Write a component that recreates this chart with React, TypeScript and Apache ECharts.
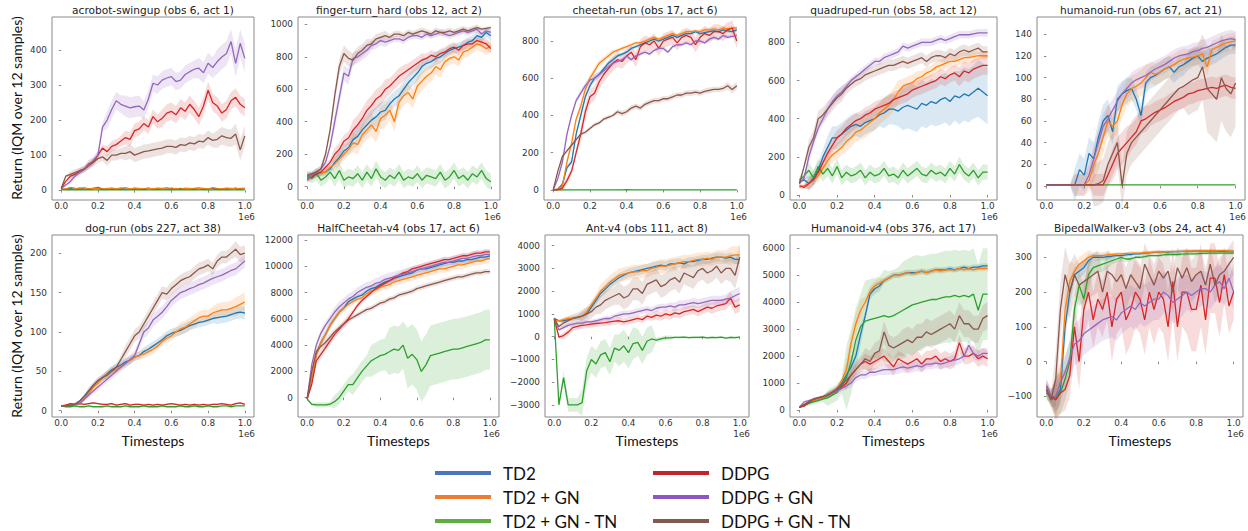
import React, { useEffect, useRef } from "react";
import * as echarts from "echarts";

// ---------- shared data ----------
const X_STEPS = [0, 0.025, 0.05, 0.075, 0.1, 0.125, 0.15, 0.175, 0.2, 0.225, 0.25, 0.275, 0.3, 0.325, 0.35, 0.375, 0.4, 0.425, 0.45, 0.475, 0.5, 0.525, 0.55, 0.575, 0.6, 0.625, 0.65, 0.675, 0.7, 0.725, 0.75, 0.775, 0.8, 0.825, 0.85, 0.875, 0.9, 0.925, 0.95, 0.975, 1.0];
const X_TICKS = [0, 0.2, 0.4, 0.6, 0.8, 1.0];
const METHODS = ["TD2", "TD2 + GN", "TD2 + GN - TN", "DDPG", "DDPG + GN", "DDPG + GN - TN"];
const LINE_COLORS = ["#1f77b4", "#ff7f0e", "#2ca02c", "#d62728", "#9467bd", "#8c564b"];
const LEGEND_COLORS = ["#4a76c0", "#ec7d33", "#5fad41", "#c4232c", "#8c58c6", "#825a50"];
const Z11 = [0, 0, 0, 0, 0, 0, 0, 0, 0, 0, 0];

// series order in each panel: TD2, TD2+GN, TD2+GN-TN, DDPG, DDPG+GN, DDPG+GN-TN
// ---------- acrobot-swingup ----------
const acrobotTicks = [0, 100, 200, 300, 400];
const acrobotValues = [
  [3, 3, 5, 2, 6, 4, 3, 5, 8, 4, 3, 5, 4, 6, 3, 4, 5, 3, 4, 6, 3, 5, 4, 3, 6, 4, 5, 3, 4, 5, 6, 4, 3, 5, 4, 3, 5, 4, 6, 3, 4],
  [3, 4, 8, 6, 5, 7, 4, 6, 5, 3, 5, 6, 4, 5, 7, 4, 6, 5, 3, 5, 4, 6, 5, 7, 4, 5, 3, 6, 5, 4, 6, 5, 4, 7, 5, 4, 6, 5, 4, 5, 6],
  [1, 1, 2, 1, 2, 1, 2, 1, 1, 2, 1, 2, 1, 2, 1, 1, 2, 1, 2, 1, 1, 2, 1, 1, 2, 1, 2, 1, 1, 2, 1, 2, 1, 1, 2, 1, 2, 1, 1, 2, 1],
  [5, 25, 40, 45, 55, 60, 70, 80, 100, 120, 110, 125, 130, 140, 150, 145, 170, 175, 190, 180, 210, 195, 205, 220, 225, 215, 235, 225, 245, 230, 210, 240, 285, 250, 240, 220, 230, 255, 265, 245, 235],
  [5, 15, 25, 40, 50, 60, 70, 85, 100, 180, 200, 230, 255, 245, 240, 235, 238, 240, 229, 260, 305, 300, 314, 320, 324, 310, 314, 330, 338, 345, 348, 335, 362, 350, 367, 380, 390, 424, 362, 419, 376],
  [5, 40, 45, 50, 55, 60, 75, 80, 90, 95, 85, 100, 100, 105, 105, 110, 100, 105, 110, 112, 115, 118, 120, 125, 125, 122, 130, 128, 135, 132, 140, 138, 150, 142, 145, 155, 150, 148, 160, 115, 155],
];
const acrobotSpread = [
  Z11, Z11, Z11,
  [2, 8, 10, 15, 20, 20, 25, 25, 25, 25, 25],
  [2, 8, 12, 25, 30, 25, 25, 25, 30, 35, 40],
  [2, 10, 12, 15, 20, 20, 20, 20, 20, 25, 30],
];

// ---------- finger-turn_hard ----------
const fingerTicks = [0, 200, 400, 600, 800, 1000];
const fingerValues = [
  [60, 70, 75, 85, 90, 110, 150, 180, 220, 240, 290, 310, 350, 380, 410, 430, 460, 470, 510, 540, 560, 600, 640, 670, 700, 740, 760, 770, 790, 800, 820, 840, 850, 860, 870, 890, 900, 930, 920, 950, 930],
  [70, 60, 80, 85, 90, 120, 140, 170, 200, 230, 270, 260, 320, 350, 380, 340, 420, 440, 470, 400, 520, 560, 580, 540, 620, 650, 680, 700, 740, 720, 770, 790, 800, 780, 830, 840, 860, 880, 870, 850, 870],
  [70, 50, 80, 40, 60, 90, 50, 100, 40, 60, 50, 80, 40, 90, 50, 110, 60, 40, 70, 50, 90, 40, 60, 50, 80, 40, 70, 60, 50, 90, 40, 60, 100, 50, 70, 40, 80, 60, 100, 50, 30],
  [50, 60, 80, 90, 120, 150, 200, 230, 280, 300, 350, 380, 420, 470, 500, 540, 560, 600, 620, 650, 680, 700, 720, 740, 760, 780, 790, 810, 800, 820, 830, 850, 860, 840, 870, 880, 880, 900, 890, 880, 850],
  [40, 70, 90, 110, 150, 250, 400, 550, 700, 680, 790, 800, 820, 840, 870, 880, 900, 890, 900, 910, 910, 900, 920, 930, 930, 920, 940, 930, 940, 950, 940, 930, 940, 950, 960, 950, 960, 970, 940, 960, 950],
  [70, 80, 90, 110, 200, 350, 560, 740, 820, 790, 780, 820, 840, 870, 880, 910, 920, 930, 920, 940, 940, 930, 950, 940, 950, 960, 950, 940, 960, 950, 950, 960, 950, 960, 970, 960, 970, 980, 970, 975, 980],
];
const fingerSpread = [
  [20, 20, 40, 60, 60, 50, 50, 40, 30, 30, 30],
  [20, 20, 40, 60, 70, 60, 60, 50, 40, 40, 40],
  [30, 40, 50, 50, 50, 50, 50, 50, 50, 50, 50],
  [20, 20, 40, 60, 60, 50, 40, 30, 30, 30, 30],
  [20, 20, 50, 40, 30, 20, 20, 20, 20, 20, 20],
  [20, 20, 50, 40, 30, 20, 20, 20, 20, 20, 10],
];

// ---------- cheetah-run ----------
const cheetahTicks = [0, 200, 400, 600, 800];
const cheetahValues = [
  [0, 5, 30, 120, 150, 300, 400, 500, 560, 600, 620, 650, 680, 700, 720, 730, 740, 760, 770, 780, 790, 800, 810, 800, 810, 820, 830, 820, 830, 840, 840, 850, 840, 845, 850, 855, 850, 860, 855, 850, 860],
  [0, 5, 20, 150, 250, 380, 450, 540, 600, 640, 680, 700, 720, 740, 750, 760, 770, 780, 790, 790, 800, 810, 820, 810, 820, 830, 840, 830, 840, 850, 850, 855, 850, 860, 860, 865, 860, 870, 865, 870, 870],
  [0, 0, 0, 0, 0, 0, 0, 0, 0, 0, 0, 0, 0, 0, 0, 0, 2, 0, 0, 0, 0, 0, 0, 0, 0, 0, 0, 0, 0, 0, 0, 0, 0, 0, 0, 0, 0, 0, 0, 0, 0],
  [0, 0, 10, 50, 100, 200, 300, 420, 500, 520, 580, 620, 650, 680, 700, 690, 720, 740, 700, 770, 790, 780, 800, 760, 800, 810, 820, 790, 820, 830, 820, 780, 820, 840, 830, 850, 850, 840, 860, 870, 800],
  [0, 60, 150, 300, 400, 480, 520, 560, 590, 600, 620, 640, 660, 680, 690, 700, 720, 700, 720, 730, 740, 730, 750, 760, 760, 740, 770, 780, 780, 790, 780, 800, 800, 790, 810, 820, 810, 830, 820, 825, 830],
  [0, 100, 180, 210, 240, 270, 300, 310, 330, 350, 360, 380, 390, 400, 420, 410, 420, 440, 450, 440, 460, 470, 480, 480, 490, 490, 500, 510, 510, 520, 520, 525, 520, 530, 535, 540, 540, 545, 560, 540, 560],
];
const cheetahSpread = [
  [0, 15, 20, 15, 10, 10, 10, 10, 10, 10, 10],
  [0, 15, 20, 15, 10, 10, 10, 10, 10, 10, 10],
  Z11,
  [0, 20, 40, 40, 40, 40, 40, 40, 40, 40, 40],
  [0, 15, 20, 15, 10, 10, 10, 10, 10, 10, 10],
  [0, 10, 10, 10, 15, 15, 15, 15, 15, 15, 20],
];

// ---------- quadruped-run ----------
const quadrupedTicks = [0, 200, 400, 600, 800];
const quadrupedValues = [
  [70, 80, 60, 90, 130, 200, 250, 300, 300, 320, 340, 360, 370, 360, 380, 390, 400, 420, 430, 450, 450, 440, 460, 470, 460, 450, 480, 470, 490, 480, 500, 510, 490, 520, 510, 530, 520, 540, 560, 540, 520],
  [40, 50, 60, 80, 100, 140, 180, 210, 230, 250, 280, 300, 330, 340, 360, 380, 400, 430, 450, 470, 500, 540, 570, 580, 590, 610, 620, 640, 650, 670, 680, 690, 700, 700, 710, 720, 720, 725, 730, 730, 730],
  [80, 100, 130, 90, 150, 110, 140, 100, 150, 90, 120, 100, 110, 130, 90, 120, 100, 110, 140, 100, 110, 90, 130, 100, 120, 140, 110, 100, 130, 110, 120, 100, 140, 110, 160, 120, 100, 130, 90, 120, 120],
  [50, 40, 60, 80, 120, 170, 220, 260, 300, 320, 350, 370, 390, 400, 420, 430, 450, 460, 470, 480, 500, 510, 520, 530, 550, 560, 570, 580, 590, 600, 620, 610, 630, 640, 620, 650, 640, 660, 670, 680, 680],
  [60, 90, 200, 280, 350, 400, 450, 490, 520, 540, 570, 600, 620, 640, 660, 680, 700, 700, 720, 730, 740, 750, 780, 770, 780, 790, 800, 800, 800, 810, 820, 810, 820, 830, 840, 840, 840, 845, 850, 850, 850],
  [60, 150, 250, 300, 400, 420, 450, 480, 510, 530, 560, 580, 600, 610, 630, 640, 650, 660, 670, 680, 680, 690, 700, 690, 700, 710, 720, 700, 720, 730, 730, 720, 740, 730, 750, 760, 750, 760, 770, 750, 750],
];
const quadrupedSpread = [
  [10, 40, 60, 60, 60, 80, 120, 120, 130, 140, 150],
  [10, 30, 40, 50, 60, 60, 40, 30, 30, 30, 20],
  [20, 40, 40, 40, 40, 40, 40, 40, 40, 40, 40],
  [10, 30, 40, 40, 40, 40, 40, 40, 40, 50, 50],
  [10, 30, 30, 20, 20, 20, 20, 20, 20, 20, 20],
  [10, 40, 40, 30, 30, 30, 30, 30, 30, 30, 30],
];

// ---------- humanoid-run ----------
const humanoidRunTicks = [0, 20, 40, 60, 80, 100, 120, 140];
const humanoidRunValues = [
  [1, 1, 1, 1, 1, 1, 1, 15, 10, 30, 25, 45, 60, 65, 50, 80, 85, 88, 90, 80, 65, 95, 100, 102, 105, 108, 110, 105, 110, 112, 115, 118, 120, 115, 118, 120, 122, 125, 128, 130, 130],
  [1, 1, 1, 1, 1, 1, 1, 1, 1, 5, 20, 30, 45, 60, 55, 60, 75, 85, 90, 92, 95, 100, 105, 103, 105, 108, 110, 112, 115, 117, 118, 119, 120, 122, 110, 126, 128, 130, 132, 133, 134],
  [1, 1, 1, 1, 1, 1, 1, 1, 1, 1, 1, 1, 1, 1, 1, 1, 1, 1, 1, 1, 1, 1, 1, 1, 1, 1, 1, 1, 1, 1, 1, 1, 1, 1, 1, 1, 1, 1, 1, 1, 1],
  [1, 1, 1, 1, 1, 1, 1, 1, 1, 1, 1, 1, 1, 10, 20, 30, 35, 40, 45, 50, 60, 62, 65, 68, 70, 72, 75, 78, 80, 82, 85, 86, 88, 89, 90, 91, 90, 92, 93, 91, 90],
  [1, 1, 1, 1, 1, 1, 1, 1, 1, 10, 25, 40, 55, 62, 70, 78, 85, 90, 95, 98, 100, 102, 105, 108, 110, 112, 115, 118, 120, 121, 122, 124, 125, 127, 128, 130, 132, 134, 135, 136, 135],
  [1, 1, 1, 1, 1, 1, 1, 1, 1, 1, 1, 2, 5, 20, 30, 40, 0, 30, 40, 45, 50, 55, 60, 65, 70, 75, 80, 85, 90, 92, 95, 98, 100, 110, 90, 85, 80, 100, 90, 85, 95],
];
const humanoidRunSpread = [
  [0, 1, 15, 15, 12, 10, 10, 10, 8, 8, 8],
  [0, 0, 10, 15, 12, 12, 10, 10, 8, 8, 8],
  Z11,
  [0, 0, 0, 10, 15, 12, 10, 10, 10, 10, 10],
  [0, 0, 10, 12, 10, 10, 8, 8, 8, 8, 8],
  [0, 0, 0, 20, 20, 20, 20, 20, 30, 40, 40],
];

// ---------- dog-run ----------
const dogTicks = [0, 50, 100, 150, 200];
const dogValues = [
  [6, 6, 6, 8, 12, 18, 25, 32, 38, 42, 47, 52, 55, 58, 62, 64, 68, 70, 75, 78, 82, 86, 90, 95, 98, 100, 102, 105, 108, 110, 112, 113, 115, 117, 118, 119, 120, 122, 124, 125, 124],
  [6, 7, 8, 8, 10, 15, 22, 30, 35, 42, 46, 50, 52, 56, 60, 64, 68, 70, 72, 75, 78, 82, 88, 92, 95, 100, 104, 106, 110, 114, 118, 120, 120, 124, 126, 128, 128, 130, 132, 135, 138],
  [6, 5, 5, 6, 5, 5, 6, 5, 5, 5, 6, 5, 5, 5, 6, 5, 5, 5, 6, 5, 5, 5, 6, 5, 5, 5, 6, 5, 5, 6, 5, 5, 6, 5, 5, 6, 6, 5, 6, 6, 6],
  [6, 7, 9, 8, 9, 8, 9, 10, 9, 8, 8, 9, 7, 8, 9, 7, 8, 8, 7, 8, 7, 8, 7, 8, 9, 8, 7, 8, 7, 8, 7, 8, 7, 8, 8, 9, 8, 7, 9, 10, 8],
  [6, 6, 7, 8, 9, 14, 20, 25, 30, 35, 40, 45, 50, 55, 60, 65, 70, 85, 100, 105, 115, 120, 125, 132, 140, 145, 150, 152, 155, 157, 160, 162, 165, 168, 170, 172, 175, 178, 180, 185, 190],
  [6, 6, 7, 8, 12, 18, 25, 32, 38, 42, 45, 50, 55, 65, 75, 85, 95, 100, 110, 120, 130, 140, 150, 148, 155, 160, 165, 168, 170, 175, 180, 182, 185, 180, 190, 195, 195, 200, 205, 198, 200],
];
const dogSpread = [
  [0, 2, 4, 5, 5, 6, 6, 6, 6, 8, 8],
  [0, 2, 4, 5, 5, 6, 6, 8, 8, 10, 12],
  Z11,
  [0, 1, 1, 1, 1, 1, 1, 1, 1, 1, 1],
  [0, 2, 4, 5, 6, 8, 8, 8, 8, 8, 8],
  [0, 2, 4, 5, 8, 8, 8, 8, 8, 8, 10],
];

// ---------- HalfCheetah-v4 ----------
const halfCheetahTicks = [0, 2000, 4000, 6000, 8000, 10000, 12000];
const halfCheetahValues = [
  [-100, 1500, 3300, 4200, 4800, 5500, 6000, 6500, 6800, 7300, 7500, 7700, 7800, 8100, 8300, 8400, 8600, 8800, 8900, 9100, 9200, 9300, 9400, 9500, 9700, 9800, 9800, 9900, 10000, 10100, 10200, 10300, 10300, 10400, 10400, 10500, 10500, 10600, 10700, 10700, 10800],
  [-100, 1500, 3200, 4200, 4800, 5500, 6000, 6500, 6800, 7100, 7300, 7500, 7600, 7900, 8100, 8200, 8400, 8500, 8600, 8800, 8900, 9000, 9100, 9200, 9300, 9400, 9500, 9600, 9700, 9800, 9800, 9900, 10000, 10100, 10100, 10200, 10300, 10400, 10400, 10500, 10600],
  [-100, -500, -550, -550, -550, -500, -300, 0, 500, 1000, 1000, 1500, 2000, 2400, 2800, 3000, 3200, 3300, 3500, 3700, 3600, 4000, 3000, 3300, 2900, 2000, 2500, 3200, 3300, 3400, 3500, 3600, 3700, 3700, 3800, 3900, 4000, 4100, 4200, 4400, 4400],
  [-100, 1000, 2800, 3300, 3800, 4300, 4800, 5200, 5600, 6000, 6500, 7000, 7400, 7700, 8000, 8300, 8500, 8700, 8900, 9100, 9300, 9500, 9600, 9800, 9900, 10000, 10100, 10200, 10300, 10400, 10500, 10500, 10600, 10700, 10800, 10800, 10900, 11000, 11000, 11100, 11100],
  [-100, 2500, 4000, 4900, 5500, 6000, 6500, 6900, 7200, 7500, 7700, 8000, 8200, 8400, 8500, 8700, 8800, 9000, 9100, 9200, 9300, 9400, 9500, 9600, 9700, 9800, 9900, 10000, 10100, 10200, 10300, 10300, 10400, 10500, 10600, 10600, 10700, 10800, 10800, 10900, 10900],
  [-100, 2000, 3500, 3900, 4200, 4600, 5000, 5300, 5600, 5900, 6100, 6300, 6500, 6700, 6800, 7000, 7200, 7300, 7500, 7600, 7800, 7900, 8000, 8100, 8300, 8400, 8500, 8600, 8700, 8800, 8900, 9000, 9100, 9200, 9200, 9300, 9400, 9500, 9500, 9600, 9600],
];
const halfCheetahSpread = [
  [0, 300, 200, 200, 200, 200, 200, 200, 200, 200, 200],
  [0, 300, 300, 200, 300, 300, 300, 300, 300, 300, 300],
  [0, 200, 500, 800, 1200, 1800, 2300, 2300, 2300, 2300, 2300],
  [0, 300, 300, 200, 200, 200, 200, 200, 200, 200, 200],
  [0, 300, 400, 400, 400, 400, 400, 400, 400, 400, 400],
  [0, 300, 200, 200, 200, 200, 200, 200, 200, 200, 200],
];

// ---------- Ant-v4 ----------
const antTicks = [-3000, -2000, -1000, 0, 1000, 2000, 3000, 4000];
const antValues = [
  [800, 700, 700, 750, 800, 850, 900, 1000, 1300, 1600, 1900, 2100, 2300, 2450, 2600, 2700, 2800, 2850, 2900, 2950, 3000, 3050, 3100, 3150, 3100, 3200, 3200, 3250, 3200, 3300, 3300, 3350, 3400, 3400, 3450, 3500, 3500, 3450, 3500, 3400, 3400],
  [700, 700, 750, 800, 800, 850, 900, 1100, 1400, 1700, 2000, 2200, 2400, 2550, 2700, 2750, 2800, 2850, 2850, 2900, 2900, 3000, 3050, 3100, 3100, 3150, 3200, 3250, 3300, 3300, 3350, 3400, 3400, 3450, 3400, 3500, 3500, 3500, 3550, 3600, 3600],
  [800, -3000, -1800, -3000, -3000, -3000, -2900, -1500, -1000, -1200, -800, -700, -1100, -500, -600, -400, -700, -300, -250, -600, -200, -100, -150, -100, -50, -50, -30, -30, -20, -40, -30, -30, -20, -50, -30, -40, -20, -60, -30, -40, -20],
  [800, -20, 50, 200, 400, 450, 500, 520, 550, 580, 600, 620, 650, 680, 700, 650, 700, 750, 800, 750, 900, 850, 950, 900, 1000, 950, 1050, 1000, 1100, 1150, 1200, 1100, 1200, 1300, 1250, 1350, 1400, 1450, 1700, 1300, 1400],
  [800, 300, 400, 500, 550, 600, 600, 650, 650, 700, 750, 800, 800, 900, 950, 1000, 1000, 1050, 1100, 1150, 1200, 1150, 1250, 1300, 1300, 1350, 1300, 1400, 1400, 1450, 1500, 1450, 1500, 1550, 1600, 1600, 1600, 1650, 1700, 1800, 1900],
  [800, 450, 600, 700, 800, 850, 900, 1000, 1100, 1300, 1400, 1600, 1700, 1800, 1900, 1700, 1800, 2100, 2100, 1900, 2300, 2400, 2500, 2200, 2300, 2500, 2600, 2400, 2800, 2700, 2600, 2900, 3000, 2800, 2900, 3100, 2800, 3000, 3000, 2700, 3500],
];
const antSpread = [
  [50, 100, 200, 200, 200, 200, 200, 200, 200, 200, 200],
  [50, 100, 200, 300, 300, 300, 300, 300, 300, 300, 400],
  [0, 300, 600, 600, 700, 600, 100, 50, 50, 50, 50],
  [50, 150, 150, 150, 150, 150, 200, 200, 200, 250, 300],
  [50, 100, 100, 100, 150, 150, 150, 200, 200, 200, 300],
  [50, 200, 300, 400, 500, 500, 500, 500, 500, 500, 600],
];

// ---------- Humanoid-v4 ----------
const humanoidTicks = [0, 1000, 2000, 3000, 4000, 5000, 6000];
const humanoidValues = [
  [100, 200, 250, 350, 400, 450, 550, 650, 750, 1000, 1300, 1600, 2000, 2800, 3500, 4300, 4500, 4600, 4800, 4900, 5000, 5000, 5050, 5100, 5100, 5100, 5150, 5100, 5150, 5200, 5200, 5200, 5250, 5200, 5250, 5300, 5250, 5300, 5300, 5350, 5350],
  [100, 200, 300, 350, 400, 450, 550, 650, 800, 1100, 1500, 2500, 3200, 3700, 4000, 4400, 4600, 4700, 4800, 4900, 5000, 5000, 5050, 5100, 5050, 5100, 5150, 5100, 5150, 5200, 5150, 5200, 5200, 5200, 5250, 5200, 5250, 5200, 5250, 5250, 5250],
  [100, 150, 250, 300, 350, 400, 450, 550, 650, 900, 1200, 1800, 2600, 3100, 3300, 3350, 3400, 3450, 3500, 3450, 3500, 3600, 3700, 3800, 3900, 3950, 4000, 4050, 4100, 4100, 4150, 4200, 4200, 4250, 4200, 4250, 4200, 4300, 3700, 4300, 4300],
  [100, 150, 300, 400, 450, 500, 550, 650, 700, 850, 1000, 1300, 1500, 1700, 1800, 1700, 1800, 1900, 2000, 1800, 1600, 1900, 1800, 1700, 1800, 1900, 1700, 1900, 1900, 2000, 1800, 1900, 1800, 1900, 2500, 2000, 2000, 2100, 1900, 2000, 1900],
  [100, 300, 350, 400, 450, 500, 550, 650, 700, 800, 900, 1000, 1200, 1300, 1300, 1400, 1400, 1450, 1500, 1500, 1500, 1550, 1600, 1550, 1600, 1650, 1600, 1700, 1700, 1750, 1700, 1750, 1800, 1850, 1900, 2000, 2400, 2100, 2000, 2100, 2100],
  [100, 200, 300, 400, 450, 500, 550, 650, 800, 950, 1100, 1300, 1500, 1700, 1900, 1800, 2100, 2200, 2900, 2400, 2300, 2400, 2500, 2600, 2500, 2700, 2700, 2900, 2800, 2900, 3000, 3100, 3200, 3000, 3500, 3200, 3200, 3000, 3000, 3400, 3500],
];
const humanoidSpread = [
  [20, 50, 100, 400, 200, 100, 100, 100, 100, 100, 100],
  [20, 50, 100, 400, 200, 100, 100, 100, 100, 100, 100],
  [20, 100, 300, 1200, 1500, 1700, 1800, 1700, 1700, 1700, 1700],
  [20, 50, 100, 200, 300, 300, 300, 300, 300, 300, 300],
  [20, 50, 100, 150, 150, 200, 200, 200, 200, 200, 200],
  [20, 50, 100, 300, 400, 400, 500, 500, 500, 500, 500],
];

// ---------- BipedalWalker-v3 ----------
const bipedalTicks = [-100, 0, 100, 200, 300];
const bipedalValues = [
  [-90, -100, -105, -80, 100, 200, 250, 260, 270, 290, 300, 300, 300, 302, 303, 305, 305, 307, 308, 310, 310, 312, 313, 314, 315, 315, 315, 316, 316, 317, 317, 317, 318, 318, 318, 318, 318, 317, 318, 317, 316],
  [-80, -110, -100, -60, 150, 230, 260, 280, 290, 300, 305, 305, 305, 307, 308, 310, 310, 311, 312, 312, 312, 313, 314, 315, 315, 315, 316, 316, 317, 317, 318, 318, 318, 318, 319, 319, 318, 319, 319, 318, 318],
  [-80, -110, -100, -90, -50, 0, 150, 220, 180, 250, 270, 275, 280, 285, 290, 295, 300, 295, 295, 300, 300, 302, 305, 305, 305, 307, 308, 308, 308, 309, 310, 310, 310, 311, 311, 312, 312, 312, 312, 312, 312],
  [-70, -100, -110, -90, -80, -40, 100, 0, 150, 200, 120, 180, 150, 200, 100, 180, 200, 120, 150, 200, 180, 120, 200, 150, 200, 180, 100, 230, 100, 200, 200, 150, 150, 220, 120, 240, 240, 170, 250, 160, 200],
  [-70, -100, -100, -60, -30, 10, 50, 60, 80, 90, 100, 110, 120, 125, 130, 120, 140, 150, 160, 150, 170, 160, 170, 180, 180, 200, 190, 170, 180, 190, 200, 190, 200, 210, 210, 200, 220, 230, 210, 240, 200],
  [-80, -110, -50, 150, 250, 200, 250, 220, 230, 240, 250, 260, 200, 260, 250, 230, 250, 210, 250, 230, 210, 280, 250, 220, 260, 240, 260, 200, 270, 240, 270, 230, 250, 260, 220, 280, 220, 250, 260, 280, 300],
];
const bipedalSpread = [
  [20, 40, 20, 10, 5, 5, 5, 5, 5, 5, 5],
  [20, 60, 20, 10, 5, 5, 5, 5, 5, 5, 5],
  [20, 60, 40, 20, 10, 5, 5, 5, 5, 5, 5],
  [20, 60, 80, 80, 100, 100, 100, 100, 120, 100, 80],
  [20, 50, 60, 60, 60, 60, 60, 60, 50, 50, 50],
  [20, 80, 60, 60, 60, 60, 60, 60, 60, 50, 50],
];

// ---------- panel table ----------
const PANELS = [
  { title: "acrobot-swingup (obs 6, act 1)", values: acrobotValues, spread: acrobotSpread, ticks: acrobotTicks, min: -28, max: 494 },
  { title: "finger-turn_hard (obs 12, act 2)", values: fingerValues, spread: fingerSpread, ticks: fingerTicks, min: -82, max: 1045 },
  { title: "cheetah-run (obs 17, act 6)", values: cheetahValues, spread: cheetahSpread, ticks: cheetahTicks, min: -54, max: 929 },
  { title: "quadruped-run (obs 58, act 12)", values: quadrupedValues, spread: quadrupedSpread, ticks: quadrupedTicks, min: -26, max: 933 },
  { title: "humanoid-run (obs 67, act 21)", values: humanoidRunValues, spread: humanoidRunSpread, ticks: humanoidRunTicks, min: -13, max: 156 },
  { title: "dog-run (obs 227, act 38)", values: dogValues, spread: dogSpread, ticks: dogTicks, min: -8, max: 223 },
  { title: "HalfCheetah-v4 (obs 17, act 6)", values: halfCheetahValues, spread: halfCheetahSpread, ticks: halfCheetahTicks, min: -1469, max: 12380 },
  { title: "Ant-v4 (obs 111, act 8)", values: antValues, spread: antSpread, ticks: antTicks, min: -3530, max: 4470 },
  { title: "Humanoid-v4 (obs 376, act 17)", values: humanoidValues, spread: humanoidSpread, ticks: humanoidTicks, min: -260, max: 6494 },
  { title: "BipedalWalker-v3 (obs 24, act 4)", values: bipedalValues, spread: bipedalSpread, ticks: bipedalTicks, min: -159, max: 364 },
];

// layout: [left, top, width, height]
const LAYOUT = [
  [52, 17, 202, 183], [298, 17, 202, 183], [544, 17, 202, 183], [790, 17, 207, 183], [1037, 17, 208, 183],
  [52, 235, 202, 182], [298, 235, 201, 182], [545, 235, 204, 182], [790, 235, 207, 182], [1037, 235, 206, 182],
];

const TICK_FONT = "DejaVu Sans";
const LABEL_FONT = "Lato";
const FRAME = "#8a8a8a";

function rgba(hex: string, a: number) {
  const n = parseInt(hex.slice(1), 16);
  return `rgba(${(n >> 16) & 255},${(n >> 8) & 255},${n & 255},${a})`;
}

function fmtNum(v: number) {
  return v < 0 ? "\u2212" + String(-v) : String(v);
}

function buildOption() {
  const grid: any[] = [];
  const xAxis: any[] = [];
  const yAxis: any[] = [];
  const series: any[] = [];
  const graphic: any[] = [];

  PANELS.forEach((p, i) => {
    const [l, t, w, h] = LAYOUT[i];
    grid.push({ left: l, top: t, width: w, height: h, show: true, borderColor: FRAME, borderWidth: 1, backgroundColor: "transparent" });
    xAxis.push({
      type: "value", gridIndex: i, min: -0.05, max: 1.05,
      axisLine: { show: false }, splitLine: { show: false },
      axisTick: { show: true, length: 2.5, inside: false, lineStyle: { color: FRAME, width: 1 }, customValues: X_TICKS },
      axisLabel: { customValues: X_TICKS, formatter: (v: number) => v.toFixed(1), fontSize: 8.85, fontFamily: TICK_FONT, color: "#333", margin: 1.5 },
    });
    yAxis.push({
      type: "value", gridIndex: i, min: p.min, max: p.max,
      axisLine: { show: false }, splitLine: { show: false },
      axisTick: { show: true, length: 2.5, inside: false, lineStyle: { color: FRAME, width: 1 }, customValues: p.ticks },
      axisLabel: { customValues: p.ticks, formatter: (v: number) => fmtNum(v), fontSize: 8.85, fontFamily: TICK_FONT, color: "#333", margin: 5 },
    });

    // bands
    p.values.forEach((vals, s) => {
      const sp = p.spread[s];
      if (!sp.some((v) => v !== 0)) return;
      const rows = vals.map((v, k) => {
        const d = sp[Math.round(k / 4)];
        return [X_STEPS[k], v - d, v + d];
      });
      const fill = rgba(LINE_COLORS[s], 0.17);
      series.push({
        type: "custom", xAxisIndex: i, yAxisIndex: i, silent: true, z: 1,
        data: rows, encode: { x: 0, y: [1, 2] },
        renderItem: (params: any, api: any) => {
          if (params.dataIndex !== 0) return null;
          const upper = rows.map((r) => api.coord([r[0], r[2]]));
          const lower = rows.map((r) => api.coord([r[0], r[1]])).reverse();
          return { type: "polygon", shape: { points: upper.concat(lower) }, style: { fill, stroke: "none" }, silent: true };
        },
      });
    });
    // lines
    p.values.forEach((vals, s) => {
      series.push({
        type: "line", name: METHODS[s], xAxisIndex: i, yAxisIndex: i, z: 3, silent: true,
        data: vals.map((v, k) => [X_STEPS[k], v]),
        showSymbol: false, symbol: "none",
        lineStyle: { width: 1.3, color: LINE_COLORS[s] }, itemStyle: { color: LINE_COLORS[s] },
      });
    });

    // title
    graphic.push({ type: "text", x: l + w / 2, y: t - 7, style: { text: p.title, fontSize: 10.6, fontFamily: TICK_FONT, fill: "#222", textAlign: "center", align: "center", textVerticalAlign: "middle", verticalAlign: "middle" } });
    // offset text
    graphic.push({ type: "text", x: l + w + 1, y: t + h + 17, style: { text: "1e6", fontSize: 8.85, fontFamily: TICK_FONT, fill: "#333", textAlign: "right", align: "right", textVerticalAlign: "middle", verticalAlign: "middle" } });
    if (i >= 5) {
      graphic.push({ type: "text", x: l + w / 2, y: t + h + 23, style: { text: "Timesteps", fontSize: 14, fontFamily: LABEL_FONT, fill: "#111", textAlign: "center", align: "center", textVerticalAlign: "middle", verticalAlign: "middle" } });
    }
  });

  // y axis labels
  [[16, 108], [16, 326]].forEach(([x, y]) => {
    graphic.push({ type: "text", x, y, rotation: Math.PI / 2, style: { text: "Return (IQM over 12 samples)", fontSize: 14, fontFamily: LABEL_FONT, fill: "#111", textAlign: "center", align: "center", textVerticalAlign: "middle", verticalAlign: "middle" } });
  });

  // legend
  const legendPos = [
    [435, 473], [435, 497], [435, 521],
    [653, 473], [653, 497], [653, 521],
  ];
  METHODS.forEach((m, s) => {
    const [lx, ly] = legendPos[s];
    graphic.push({ type: "line", shape: { x1: lx, y1: ly, x2: lx + 56, y2: ly }, style: { stroke: LEGEND_COLORS[s], lineWidth: 4 } });
    graphic.push({ type: "text", x: lx + 68, y: ly, style: { text: m, fontSize: 17, fontFamily: LABEL_FONT, fill: "#111", textAlign: "left", align: "left", textVerticalAlign: "middle", verticalAlign: "middle" } });
  });

  return { animation: false, backgroundColor: "#ffffff", grid, xAxis, yAxis, series, graphic };
}

export default function App() {
  const ref = useRef<HTMLDivElement>(null);
  useEffect(() => {
    if (!ref.current) return;
    const chart = echarts.init(ref.current, undefined, { renderer: "svg" });
    chart.setOption(buildOption() as any);
    return () => chart.dispose();
  }, []);
  return <div ref={ref} style={{ position: "absolute", left: 0, top: 0, width: 1248, height: 531 }} />;
}
